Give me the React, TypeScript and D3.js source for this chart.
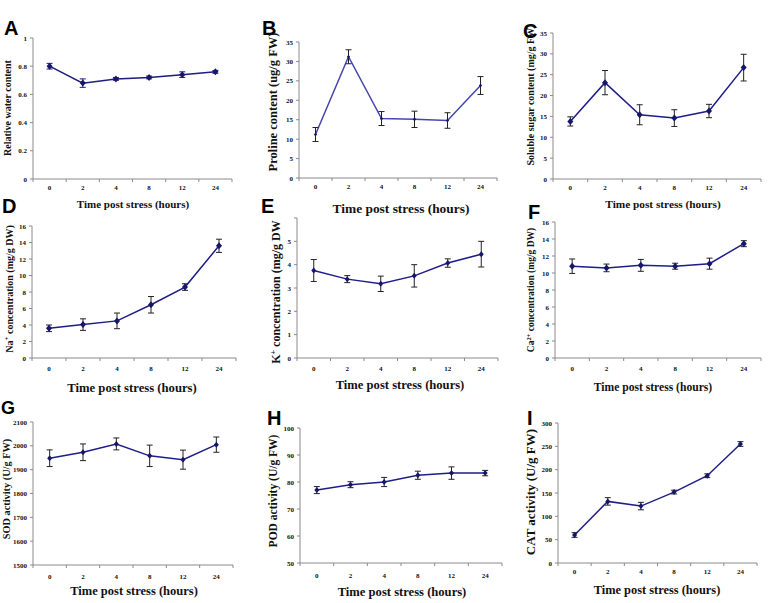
import React from "react";
import * as d3 from "d3";

const hours = ["0", "2", "4", "8", "12", "24"];

const waterMean = [0.8, 0.68, 0.71, 0.72, 0.74, 0.76];
const waterErr = [0.02, 0.03, 0.01, 0.01, 0.02, 0.01];
const prolineMean = [11.2, 31.2, 15.3, 15.1, 14.8, 23.8];
const prolineErr = [1.8, 1.8, 1.8, 2.1, 2.0, 2.3];
const sugarMean = [13.8, 23.1, 15.4, 14.6, 16.3, 26.7];
const sugarErr = [1.1, 2.9, 2.4, 2.0, 1.6, 3.2];
const naMean = [3.6, 4.05, 4.5, 6.45, 8.6, 13.6];
const naErr = [0.4, 0.7, 0.95, 1.0, 0.4, 0.8];
const kMean = [3.75, 3.38, 3.18, 3.52, 4.07, 4.45];
const kErr = [0.47, 0.15, 0.33, 0.48, 0.18, 0.55];
const caMean = [10.8, 10.6, 10.9, 10.8, 11.1, 13.45];
const caErr = [0.85, 0.45, 0.7, 0.35, 0.65, 0.35];
const sodMean = [1948, 1973, 2008, 1958, 1942, 2005];
const sodErr = [35, 35, 25, 45, 40, 32];
const podMean = [77, 79, 80, 82.5, 83.3, 83.3];
const podErr = [1.3, 1.1, 1.7, 1.5, 2.3, 1.0];
const catMean = [60, 132, 122, 152, 187, 255];
const catErr = [5, 8, 8, 4, 4, 5];

const xTitle = "Time post stress (hours)";

type Cfg = {
  letter: string;
  lx: number;
  ly: number;
  lsize?: number;
  mean: number[];
  err: number[];
  domain: [number, number];
  step: number;
  hideTop?: boolean;
  left: number;
  right: number;
  top: number;
  bottom: number;
  tickY: number;
  titleX: number;
  titleY: number;
  titleSize: number;
  labX: number;
  labY: number;
  labSize: number;
  label: React.ReactNode;
  line: string;
  errColor: string;
  marker: number;
};

const SERIF = "'Liberation Serif', 'DejaVu Serif', serif";
const SANS = "'Liberation Sans', Arial, sans-serif";

const panels: Cfg[] = [
  {
    letter: "A", lx: 4, ly: 35, mean: waterMean, err: waterErr, domain: [0, 1], step: 0.2,
    left: 33, right: 232, top: 38, bottom: 179, tickY: 190, titleX: 133, titleY: 208, titleSize: 11,
    labX: 11, labY: 108, labSize: 10, label: "Relative water content",
    line: "#1e1e7c", errColor: "#1e1e7c", marker: 3,
  },
  {
    letter: "B", lx: 262, ly: 35, mean: prolineMean, err: prolineErr, domain: [0, 35], step: 5,
    left: 299, right: 497, top: 42, bottom: 178, tickY: 189, titleX: 401, titleY: 213, titleSize: 13.4,
    labX: 277, labY: 102, labSize: 12.5, label: "Proline content (ug/g FW)",
    line: "#4646b0", errColor: "#222", marker: 1.6,
  },
  {
    letter: "C", lx: 523, ly: 38, mean: sugarMean, err: sugarErr, domain: [0, 35], step: 5,
    left: 553, right: 761, top: 33, bottom: 179, tickY: 190, titleX: 663, titleY: 208, titleSize: 11.3,
    labX: 534, labY: 95, labSize: 10, label: "Soluble sugar content (mg/g FW)",
    line: "#1e1e88", errColor: "#222", marker: 3,
  },
  {
    letter: "D", lx: 2, ly: 213, mean: naMean, err: naErr, domain: [0, 16], step: 2,
    left: 32, right: 236, top: 226, bottom: 358, tickY: 371, titleX: 132, titleY: 392, titleSize: 12.7,
    labX: 13, labY: 289, labSize: 10,
    label: (
      <>
        Na<tspan baselineShift="super" fontSize="7">+</tspan> concentration (mg/g DW)
      </>
    ),
    line: "#1e1e88", errColor: "#222", marker: 3,
  },
  {
    letter: "E", lx: 261, ly: 213, mean: kMean, err: kErr, domain: [0, 6], step: 1, hideTop: true,
    left: 297, right: 498, top: 218, bottom: 358, tickY: 371, titleX: 400, titleY: 389, titleSize: 12.6,
    labX: 280, labY: 292, labSize: 12,
    label: (
      <>
        K<tspan baselineShift="super" fontSize="8">+</tspan> concentration (mg/g DW
      </>
    ),
    line: "#1e1e88", errColor: "#222", marker: 2.5,
  },
  {
    letter: "F", lx: 528, ly: 219, mean: caMean, err: caErr, domain: [0, 16], step: 2,
    left: 555, right: 761, top: 222, bottom: 358, tickY: 371, titleX: 653, titleY: 391, titleSize: 11.6,
    labX: 534, labY: 290, labSize: 9.5,
    label: (
      <>
        Ca<tspan baselineShift="super" fontSize="6.5">2+</tspan> concentration (mg/g DW)
      </>
    ),
    line: "#1e1e88", errColor: "#222", marker: 3,
  },
  {
    letter: "G", lx: 1, ly: 414, lsize: 18, mean: sodMean, err: sodErr, domain: [1500, 2100], step: 100,
    left: 33, right: 233, top: 422, bottom: 565, tickY: 579, titleX: 134, titleY: 595, titleSize: 12.5,
    labX: 10, labY: 489, labSize: 10.3, label: "SOD activity (U/g FW)",
    line: "#1e1e88", errColor: "#222", marker: 2.5,
  },
  {
    letter: "H", lx: 267, ly: 425, mean: podMean, err: podErr, domain: [50, 100], step: 10,
    left: 300, right: 502, top: 428, bottom: 563, tickY: 578, titleX: 402, titleY: 596, titleSize: 12.6,
    labX: 277, labY: 491, labSize: 11.5, label: "POD activity (U/g FW)",
    line: "#1e1e88", errColor: "#222", marker: 2.5,
  },
  {
    letter: "I", lx: 527, ly: 425, mean: catMean, err: catErr, domain: [0, 300], step: 50,
    left: 558, right: 757, top: 423, bottom: 563, tickY: 574, titleX: 657, titleY: 594, titleSize: 12.4,
    labX: 535, labY: 492, labSize: 13, label: "CAT activity (U/g FW)",
    line: "#1e1e88", errColor: "#222", marker: 2.5,
  },
];

function Panel({ c }: { c: Cfg }) {
  const x = d3.scaleBand<string>().domain(hours).range([c.left, c.right]);
  const y = d3.scaleLinear().domain(c.domain).range([c.bottom, c.top]);
  const cx = (h: string) => (x(h) as number) + x.bandwidth() / 2;
  const ticks = d3.range(c.domain[0], c.domain[1] + c.step / 2, c.step);
  const fmt = d3.format("~g");
  const lineGen = d3
    .line<number>()
    .x((_, i) => cx(hours[i]))
    .y((d) => y(d));
  const bounds = hours.map((h) => x(h) as number).concat([c.right]);
  const m = c.marker;
  return (
    <g>
      <text x={c.lx} y={c.ly} fontFamily={SANS} fontWeight="bold" fontSize={c.lsize ?? 20} fill="#000">
        {c.letter}
      </text>
      <line x1={c.left} x2={c.left} y1={c.top} y2={c.bottom} stroke="#8a8a8a" strokeWidth={1} />
      {ticks.map((t, i) => (
        <g key={"yt" + i}>
          <line x1={c.left - 3} x2={c.left} y1={y(t)} y2={y(t)} stroke="#8a8a8a" />
          {!(c.hideTop && i === ticks.length - 1) && (
            <text
              x={c.left - 6}
              y={y(t) + 2.5}
              textAnchor="end"
              fontFamily={SERIF}
              fontWeight="bold"
              fontSize={7}
              fill="#111"
            >
              {fmt(t)}
            </text>
          )}
        </g>
      ))}
      <line x1={c.left} x2={c.right} y1={c.bottom} y2={c.bottom} stroke="#8a8a8a" strokeWidth={1} />
      {bounds.map((b, i) => (
        <line key={"xb" + i} x1={b} x2={b} y1={c.bottom} y2={c.bottom + 3} stroke="#8a8a8a" />
      ))}
      {hours.map((h) => (
        <text
          key={"xl" + h}
          x={cx(h)}
          y={c.tickY}
          textAnchor="middle"
          fontFamily={SERIF}
          fontWeight="bold"
          fontSize={7}
          fill="#111"
        >
          {h}
        </text>
      ))}
      <text
        x={c.titleX}
        y={c.titleY}
        textAnchor="middle"
        fontFamily={SERIF}
        fontWeight="bold"
        fontSize={c.titleSize}
        fill="#111"
      >
        {xTitle}
      </text>
      <text
        transform={`translate(${c.labX},${c.labY}) rotate(-90)`}
        textAnchor="middle"
        fontFamily={SERIF}
        fontWeight="bold"
        fontSize={c.labSize}
        fill="#111"
      >
        {c.label}
      </text>
      <path d={lineGen(c.mean) || ""} fill="none" stroke={c.line} strokeWidth={1.5} />
      {c.mean.map((v, i) => {
        const px = cx(hours[i]);
        const y1 = y(v + c.err[i]);
        const y2 = y(v - c.err[i]);
        return (
          <g key={"e" + i} stroke={c.errColor} strokeWidth={1}>
            <line x1={px} x2={px} y1={y1} y2={y2} />
            <line x1={px - 3} x2={px + 3} y1={y1} y2={y1} />
            <line x1={px - 3} x2={px + 3} y1={y2} y2={y2} />
          </g>
        );
      })}
      {c.mean.map((v, i) => {
        const px = cx(hours[i]);
        const py = y(v);
        return (
          <path
            key={"m" + i}
            d={`M${px},${py - m - 0.5}L${px + m},${py}L${px},${py + m + 0.5}L${px - m},${py}Z`}
            fill="#16166a"
          />
        );
      })}
    </g>
  );
}

export default function App() {
  return (
    <svg
      width={776}
      height={603}
      viewBox="0 0 776 603"
      style={{ position: "absolute", left: 0, top: 0, background: "#fff" }}
    >
      <rect width={776} height={603} fill="#fff" />
      {panels.map((c) => (
        <Panel key={c.letter} c={c} />
      ))}
    </svg>
  );
}
